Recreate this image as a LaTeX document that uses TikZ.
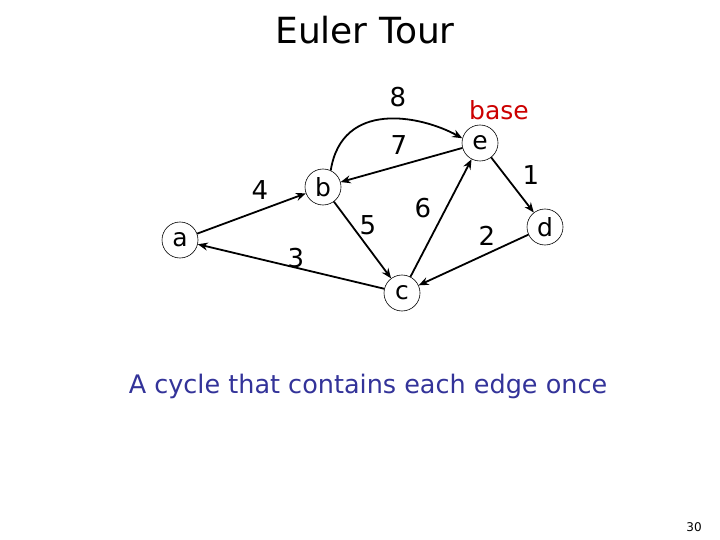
\documentclass[tikz,border=0pt]{standalone}
\usepackage{fontspec}
\setmainfont{DejaVu Sans}
\usetikzlibrary{arrows.meta}
\definecolor{basered}{RGB}{204,0,0}
\definecolor{noteblue}{RGB}{51,51,153}
\tikzset{
  vtx/.style={circle,draw,line width=0.6pt,minimum size=36pt,inner sep=0pt,font=\fontsize{25}{25}\selectfont},
  edgeline/.style={line width=1.8pt,-{Stealth[length=10pt,width=8pt]}},
  elabel/.style={font=\fontsize{26}{26}\selectfont,inner sep=0pt}
}
\begin{document}
\begin{tikzpicture}[x=1pt,y=-1pt]
\useasboundingbox (0,0) rectangle (720,540);
\node[font=\fontsize{36}{36}\selectfont] (title) at (365,30) {Euler Tour};
\node[vtx] (a) at (180,240) {a};
\node[vtx] (b) at (323,187) {b};
\node[vtx] (c) at (402,293) {c};
\node[vtx] (e) at (480,143) {e};
\node[vtx] (d) at (545,227) {d};
\node[font=\fontsize{25}{25}\selectfont,text=basered] (base) at (499,110) {base};
\draw[edgeline] (e) -- (d);
\draw[edgeline] (d) -- (c);
\draw[edgeline] (c) -- (a);
\draw[edgeline] (a) -- (b);
\draw[edgeline] (b) -- (c);
\draw[edgeline] (c) -- (e);
\draw[edgeline] (e) -- (b);
\draw[edgeline] (b.65) .. controls (342,100) and (420,115) .. (e.165);
\node[elabel] (l8) at (398,97) {8};
\node[elabel] (l7) at (399,145) {7};
\node[elabel] (l4) at (260,190) {4};
\node[elabel] (l5) at (368,225) {5};
\node[elabel] (l6) at (423,208) {6};
\node[elabel] (l3) at (296,258) {3};
\node[elabel] (l2) at (487,236) {2};
\node[elabel] (l1) at (531,175) {1};
\node[font=\fontsize{25.5}{25.5}\selectfont,text=noteblue] (note) at (368,386) {A cycle that contains each edge once};
\node[font=\fontsize{12}{12}\selectfont] (page) at (694,527) {30};
\end{tikzpicture}
\end{document}
